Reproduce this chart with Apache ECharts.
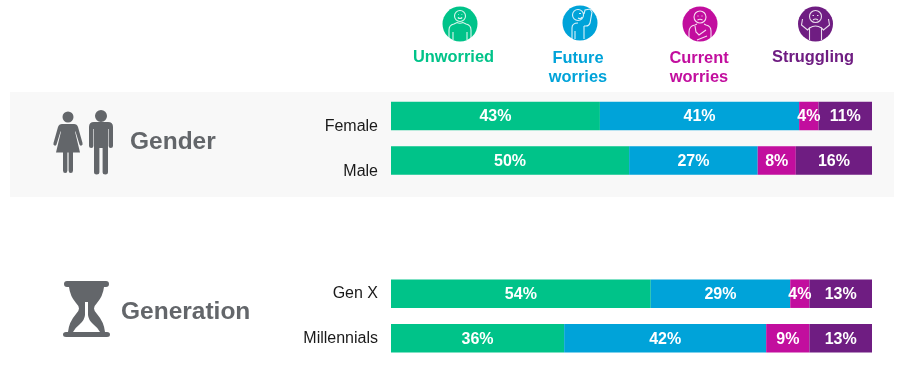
<!DOCTYPE html>
<html><head><meta charset="utf-8">
<style>html,body{margin:0;padding:0;background:#fff}#c{width:900px;height:366px}</style>
<script src="https://cdn.jsdelivr.net/npm/echarts@6/dist/echarts.min.js"></script>
</head><body><div id="c"></div>
<script>
const seriesNames = ['Unworried', 'Future\nworries', 'Current\nworries', 'Struggling'];
const colors = ['#00c389', '#00a3d9', '#c20e9e', '#6f1d82'];
const genderCats = ['Female', 'Male'];
const generationCats = ['Gen X', 'Millennials'];
const genderValues = [[43, 50], [41, 27], [4, 8], [11, 16]];
const generationValues = [[54, 36], [29, 42], [4, 9], [13, 13]];
const FONT = 'Liberation Sans';

function shares(rows) {
  const n = rows[0].length;
  const totals = Array.from({length: n}, (_, i) => rows.reduce((s, r) => s + r[i], 0));
  return rows.map(r => r.map((v, i) => ({value: v / totals[i] * 100, raw: v})));
}
function makeSeries(rows, axisIndex, stack) {
  return shares(rows).map((data, i) => ({
    type: 'bar', name: seriesNames[i].replace('\n', ' '), stack, xAxisIndex: axisIndex, yAxisIndex: axisIndex,
    barWidth: 28.5, data, silent: true,
    itemStyle: {color: colors[i]},
    label: {show: true, position: 'inside', offset: [0, 1], color: '#fff', fontFamily: FONT, fontWeight: 'bold', fontSize: 16,
      formatter: p => p.data.raw + '%'}
  }));
}
const P = '#63666a';
function shape(name, d) {
  echarts.graphic.registerShape(name, echarts.graphic.extendPath(d, {}));
  return name;
}
function icon(name, cx, cy, color, d) {
  shape(name, d);
  return {type: 'group', x: cx - 17, y: cy - 17, silent: true, children: [
    {type: 'circle', shape: {cx: 17, cy: 17, r: 17.5}, style: {fill: color}},
    {type: name, style: {stroke: 'rgba(255,255,255,0.85)', fill: null, lineWidth: 1.1}}
  ]};
}
const icons = [
  icon('iconUnworried', 460, 24, colors[0],
    'M17 3.5a5.5 5.5 0 1 0 .01 0ZM15 7.500h.6M18.600 7.500h.6M14.800 10.500q2.200 2 4.400 0M6 33V23q0-5 5-6l3-1.500q3 1.500 6 0l3 1.500q5 1 5 6V33M10 33V25M24 33V25'),
  icon('iconFuture', 580, 23, colors[1],
    'M15 3.500a5.500 5.500 0 1 0 .01 0ZM16 7.500h2M15 12q2.500 1.500 4-1M21 8l1-4 5-1 2 3-2 11q-1 3-4 3h-2M9 33V22q0-5 6-5M21 33V20M12 33V25'),
  icon('iconCurrent', 700, 24, colors[2],
    'M17 4a6 6 0 1 0 .01 0ZM14.500 9h1M18.500 9h1M14.500 13q2.500-1.500 5 0M6 33V25q0-6 6-7l2-1M28 33V24q0-5-5-6l-2-1M12 19l1 6 3 3 7-5M14 33l10-4'),
  icon('iconStruggling', 815.5, 24, colors[3],
    'M17 3.500a6 6 0 1 0 .01 0ZM14 8.500h1.500M18.500 8.500h1.500M14.500 13q2.500-2 5 0M11 33V21l-2 2-6-5 1-6M23 33V21l2 2 6-5-1-6M11 21q6-4 12 0')
];
shape('woman', 'M68 111.500a5.500 5.500 0 1 0 .01 0ZM62 124h12q3 0 4 3l4.500 16q.5 2-1 2.500-1.500.5-2-1l-4-13h-.5l5 21h-7v18q0 2.500-2.200 2.500t-2.200-2.500v-18h-1.200v18q0 2.500-2.200 2.500t-2.200-2.500v-18h-7l5-21h-.5l-4 13q-.5 1.500-2 1-1.500-.5-1-2.500l4.500-16q1-3 4-3Z');
shape('man', 'M101 110a6 6 0 1 0 .01 0ZM94 122h14q5 0 5 5v19q0 2-2.200 2t-2.200-2v-17h-.6v43q0 2.500-2.700 2.500t-2.700-2.500v-24h-3.200v24q0 2.500-2.700 2.500t-2.700-2.500v-43h-.6v17q0 2-2.200 2t-2.200-2v-19q0-5 5-5Z');
shape('glass', 'M67 281H106Q109 281 109 284Q109 287 106 287H104Q103 296 97 303Q94 306 94 308.500Q94 311 97 314Q104 322 105 332H107Q110 332 110 334.500Q110 337 107 337H66Q63 337 63 334.500Q63 332 66 332H68Q69 322 76 314Q79 311 79 308.500Q79 306 76 303Q70 296 69 287H67Q64 287 64 284Q64 281 67 281Z');
shape('glassHole', 'M85 302H88V315Q88.500 320 93 324Q98 328 100 332H73Q75 328 80 324Q84.500 320 85 315Z');
function bold(x, y, text, color, size, align, lh) {
  return {type: 'text', x, y, silent: true, style: {text, fill: color, font: 'bold ' + size + 'px "' + FONT + '"',
    align: align || 'center', verticalAlign: 'top', lineHeight: lh || 19.5}};
}
const graphic = [
  {type: 'rect', z: -10, silent: true, shape: {x: 10, y: 92, width: 884, height: 105}, style: {fill: '#f8f8f8'}},
  {type: 'woman', silent: true, style: {fill: P}},
  {type: 'man', silent: true, style: {fill: P}},
  {type: 'glass', silent: true, style: {fill: P}},
  {type: 'glassHole', silent: true, style: {fill: '#fff'}},
  bold(130, 132, 'Gender', P, 24.5, 'left', 20),
  bold(121, 302, 'Generation', P, 24.5, 'left', 20),
  bold(453.5, 48, seriesNames[0], colors[0], 16.4),
  bold(578, 48.5, seriesNames[1], colors[1], 16.4),
  bold(699, 48.5, seriesNames[2], colors[2], 16.4),
  bold(813, 48, seriesNames[3], colors[3], 16.4)
].concat(icons);

function yAxis(data, gridIndex, align, pad) {
  return {type: 'category', gridIndex, data, inverse: true,
    axisLine: {show: false}, axisTick: {show: false},
    axisLabel: {color: '#1a1a1a', fontFamily: FONT, fontSize: 16, margin: 13, verticalAlign: align, padding: pad}};
}
function xAxis(gridIndex) {
  return {type: 'value', gridIndex, min: 0, max: 100, show: false};
}
const chart = echarts.init(document.getElementById('c'), null, {renderer: 'canvas'});
chart.setOption({
  animation: false, backgroundColor: '#fff', graphic,
  grid: [
    {left: 391, width: 481, top: 93.75, height: 89},
    {left: 391, width: 481, top: 271.4, height: 89.2}
  ],
  xAxis: [xAxis(0), xAxis(1)],
  yAxis: [yAxis(genderCats, 0, 'top', [3, 0, 0, 0]), yAxis(generationCats, 1, 'middle', [0, 0, 0, 0])],
  series: makeSeries(genderValues, 0, 'gender').concat(makeSeries(generationValues, 1, 'generation'))
});
</script></body></html>
